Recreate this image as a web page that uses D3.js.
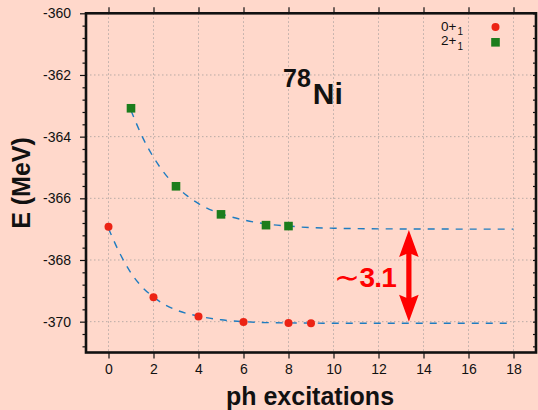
<!DOCTYPE html>
<html>
<head>
<meta charset="utf-8">
<script src="https://cdn.jsdelivr.net/npm/d3@7"></script>
<style>
  html, body { margin: 0; padding: 0; background: #ffd8cb; }
  svg { display: block; }
  text { font-family: "Liberation Sans", Arial, Helvetica, sans-serif; }
</style>
</head>
<body>
<svg id="chart" width="538" height="410"></svg>
<script>
// Ground state 0+_1 energies vs. number of ph excitations
const groundX = [0, 2, 4, 6, 8, 9];
const groundE = [-366.92, -369.21, -369.83, -370.01, -370.04, -370.05];

// First 2+ state energies
const excitedX = [1, 3, 5, 7, 8];
const excitedE = [-363.08, -365.61, -366.52, -366.87, -366.9];

// Exponential extrapolation curves (sampled)
const groundFitX = [0, 0.5, 1, 1.5, 2, 2.5, 3, 4, 5, 6, 7, 8, 10, 12, 18];
const groundFitE = [-366.98, -367.78, -368.42, -368.88, -369.2, -369.45, -369.62, -369.82, -369.94, -370.0, -370.03, -370.04, -370.05, -370.05, -370.05];
const excitedFitX = [1, 1.5, 2, 2.5, 3, 3.5, 4, 5, 6, 7, 8, 9, 10, 12, 18];
const excitedFitE = [-363.15, -364.0, -364.67, -365.2, -365.6, -365.92, -366.17, -366.5, -366.7, -366.83, -366.9, -366.95, -366.97, -366.99, -367.0];

// Axis ticks
const xTicks = [0, 2, 4, 6, 8, 10, 12, 14, 16, 18];
const yTicks = [-370, -368, -366, -364, -362, -360];

// Gap annotation: arrow between the two asymptotes
const gapX = 13.35;
const gapTop = -367.03;
const gapBottom = -370.0;
const gapLabel = "3.1";

const legendLabels = ["0+", "2+"];

const svg = d3.select("#chart");
const pL = 86, pR = 536, pT = 13.3, pB = 352.5;

const x = d3.scaleLinear().domain([-1, 19]).range([pL, pR]);
const y = d3.scaleLinear().domain([-371, -360]).range([pB, pT]);

const red = "#ec2314", green = "#1c7d1c", blue = "#1f7cc0";

// Grid
const grid = svg.append("g").attr("stroke", "#b9aba6").attr("stroke-width", 1)
  .attr("stroke-dasharray", "1.5,2.5");
grid.selectAll("line.v").data(xTicks).join("line").attr("class", "v")
  .attr("x1", d => x(d)).attr("x2", d => x(d)).attr("y1", pT).attr("y2", pB);
grid.selectAll("line.h").data(yTicks).join("line").attr("class", "h")
  .attr("y1", d => y(d)).attr("y2", d => y(d)).attr("x1", pL).attr("x2", pR);

// Minor y ticks every 0.4 MeV
const minorY = d3.range(0, 28).map(i => -360 - i * 0.4).filter(v => Math.abs(v / 2 - Math.round(v / 2)) > 1e-6);

// Axes
const bottomAxis = d3.axisBottom(x).tickValues(xTicks).tickSize(6).tickSizeOuter(0).tickPadding(6);
const gB = svg.append("g").attr("transform", `translate(0,${pB})`).call(bottomAxis);
svg.append("g").attr("transform", `translate(0,${pT})`)
  .call(d3.axisTop(x).tickValues(xTicks).tickSize(6).tickSizeOuter(0).tickFormat(""));
const leftAxis = d3.axisLeft(y).tickValues(yTicks).tickSize(6).tickSizeOuter(0).tickPadding(9);
const gL = svg.append("g").attr("transform", `translate(${pL},0)`).call(leftAxis);
svg.append("g").attr("transform", `translate(${pL},0)`)
  .call(d3.axisLeft(y).tickValues(minorY).tickSize(3.5).tickSizeOuter(0).tickFormat(""));
svg.append("g").attr("transform", `translate(${pR},0)`)
  .call(d3.axisLeft(y).tickValues(minorY.concat(yTicks)).tickSize(3).tickSizeOuter(0).tickFormat(""));

svg.selectAll(".domain").remove();
svg.selectAll(".tick line").attr("stroke", "#111").attr("stroke-width", 1.2);
[gB, gL].forEach(g => g.selectAll(".tick text")
  .attr("font-size", 14).attr("fill", "#111")
  .style("font-family", "'Liberation Sans', Arial, sans-serif"));
gL.selectAll(".tick text").text(d => String(d));

// Frame
svg.append("rect").attr("x", pL).attr("y", pT)
  .attr("width", pR - pL).attr("height", pB - pT)
  .attr("fill", "none").attr("stroke", "#111").attr("stroke-width", 2.6);

// Fit curves
const line = d3.line().x(d => x(d[0])).y(d => y(d[1])).curve(d3.curveMonotoneX);
svg.append("path").datum(d3.zip(groundFitX, groundFitE)).attr("d", line)
  .attr("fill", "none").attr("stroke", blue).attr("stroke-width", 1.4).attr("stroke-dasharray", "7,7");
svg.append("path").datum(d3.zip(excitedFitX, excitedFitE)).attr("d", line)
  .attr("fill", "none").attr("stroke", blue).attr("stroke-width", 1.4).attr("stroke-dasharray", "7,7");

// Data points
svg.append("g").selectAll("circle").data(d3.zip(groundX, groundE)).join("circle")
  .attr("cx", d => x(d[0])).attr("cy", d => y(d[1])).attr("r", 4).attr("fill", red);
const sq = 8.6;
svg.append("g").selectAll("rect").data(d3.zip(excitedX, excitedE)).join("rect")
  .attr("x", d => x(d[0]) - sq / 2).attr("y", d => y(d[1]) - sq / 2)
  .attr("width", sq).attr("height", sq).attr("fill", green);

// Double-headed gap arrow
const ax = x(gapX), aTop = y(gapTop), aBot = y(gapBottom);
const headL = 27, headW = 9.8, notch = 3, shaft = 2.6;
const arrowPath = [
  [ax, aTop],
  [ax + headW, aTop + headL],
  [ax + shaft, aTop + headL - notch],
  [ax + shaft, aBot - headL + notch],
  [ax + headW, aBot - headL],
  [ax, aBot],
  [ax - headW, aBot - headL],
  [ax - shaft, aBot - headL + notch],
  [ax - shaft, aTop + headL - notch],
  [ax - headW, aTop + headL]
];
svg.append("path").attr("d", d3.line()(arrowPath) + "Z").attr("fill", "#ff0000");

const gl = svg.append("text").attr("x", 334).attr("y", 286.5).attr("fill", "#ff0000");
gl.append("tspan").attr("font-size", 31).attr("font-family", "'DejaVu Sans', sans-serif").attr("dy", 1).text("∼");
gl.append("tspan").attr("font-size", 28).attr("font-weight", "bold").attr("letter-spacing", -0.8).attr("dx", -0.5).attr("dy", -1).text(gapLabel);

// Nucleus label
const title = svg.append("text").attr("x", 283).attr("y", 104.3).attr("font-weight", "bold").attr("fill", "#111");
title.append("tspan").attr("font-size", 25).attr("dy", -17.6).text("78");
title.append("tspan").attr("font-size", 30).attr("dy", 17.6).attr("dx", 2).text("Ni");

// Legend
const legend = svg.append("g");
legendLabels.forEach((lab, i) => {
  const t = legend.append("text").attr("x", 441).attr("y", 30.7 + i * 14.6).attr("font-size", 13.5).attr("fill", "#111");
  t.append("tspan").text(lab);
  t.append("tspan").attr("font-size", 10).attr("dy", 4.5).attr("dx", 1).text("1");
});
legend.append("circle").attr("cx", 495.5).attr("cy", 27).attr("r", 4).attr("fill", red);
legend.append("rect").attr("x", 495.5 - sq / 2).attr("y", 42.3 - sq / 2).attr("width", sq).attr("height", sq).attr("fill", green);

// Axis titles
svg.append("text").attr("x", 310).attr("y", 405).attr("text-anchor", "middle")
  .attr("font-size", 25).attr("font-weight", "bold").attr("fill", "#111").text("ph excitations");
svg.append("text").attr("transform", "translate(30,183) rotate(-90)").attr("text-anchor", "middle")
  .attr("font-size", 25).attr("font-weight", "bold").attr("fill", "#111").text("E (MeV)");
</script>
</body>
</html>
